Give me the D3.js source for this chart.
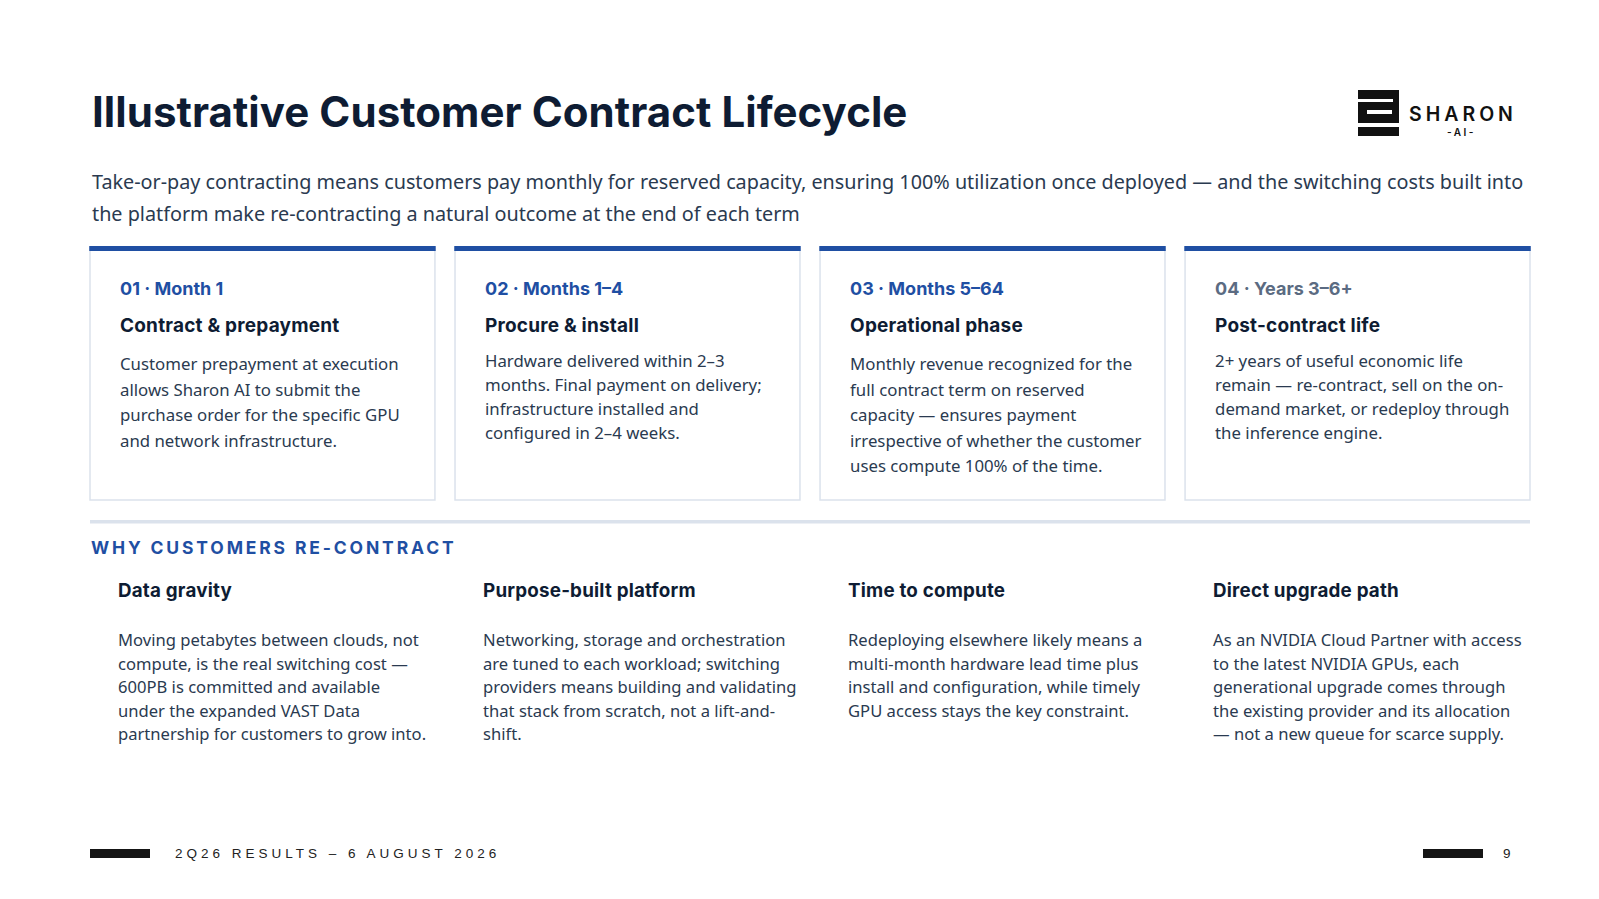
<!DOCTYPE html>
<html>
<head>
<meta charset="utf-8">
<script src="https://cdn.jsdelivr.net/npm/d3@7/dist/d3.min.js"></script>
<style>
  html, body { margin: 0; padding: 0; background: #fff; }
  svg { display: block; }
</style>
</head>
<body>
<svg id="slide" width="1599" height="899"></svg>
<script>
var pageTitle = 'Illustrative Customer Contract Lifecycle';
var subtitleLines = [
  'Take-or-pay contracting means customers pay monthly for reserved capacity, ensuring 100% utilization once deployed \u2014 and the switching costs built into',
  'the platform make re-contracting a natural outcome at the end of each term'
];

var phaseLabels = ['01 \u00b7 Month 1', '02 \u00b7 Months 1\u20134', '03 \u00b7 Months 5\u201364', '04 \u00b7 Years 3\u20136+'];
var phaseTitles = ['Contract & prepayment', 'Procure & install', 'Operational phase', 'Post-contract life'];
var phaseBodies = [
  ['Customer prepayment at execution', 'allows Sharon AI to submit the', 'purchase order for the specific GPU', 'and network infrastructure.'],
  ['Hardware delivered within 2\u20133', 'months. Final payment on delivery;', 'infrastructure installed and', 'configured in 2\u20134 weeks.'],
  ['Monthly revenue recognized for the', 'full contract term on reserved', 'capacity \u2014 ensures payment', 'irrespective of whether the customer', 'uses compute 100% of the time.'],
  ['2+ years of useful economic life', 'remain \u2014 re-contract, sell on the on-', 'demand market, or redeploy through', 'the inference engine.']
];

var sectionLabel = 'WHY CUSTOMERS RE-CONTRACT';
var reasonTitles = ['Data gravity', 'Purpose-built platform', 'Time to compute', 'Direct upgrade path'];
var reasonBodies = [
  ['Moving petabytes between clouds, not', 'compute, is the real switching cost \u2014', '600PB is committed and available', 'under the expanded VAST Data', 'partnership for customers to grow into.'],
  ['Networking, storage and orchestration', 'are tuned to each workload; switching', 'providers means building and validating', 'that stack from scratch, not a lift-and-', 'shift.'],
  ['Redeploying elsewhere likely means a', 'multi-month hardware lead time plus', 'install and configuration, while timely', 'GPU access stays the key constraint.'],
  ['As an NVIDIA Cloud Partner with access', 'to the latest NVIDIA GPUs, each', 'generational upgrade comes through', 'the existing provider and its allocation', '\u2014 not a new queue for scarce supply.']
];

var footerText = '2Q26 RESULTS \u2013 6 AUGUST 2026';
var pageNumber = '9';

(function() {
  'use strict';
  var HEAD = 'Inter, "Liberation Sans", sans-serif';
  var BODY = '"Noto Sans", Lato, sans-serif';
  var navy = '#0e1c33';
  var textCol = '#2a3a50';
  var blue = '#1f4fa3';
  var slate = '#5b6b82';
  var lineCol = '#dbe2ec';

  var svg = d3.select('#slide');

  // four equal columns shared by the cards and the reasons row
  var col = d3.scaleBand()
    .domain(d3.range(4))
    .range([90, 1530])
    .paddingInner(0.055);

  // title
  svg.append('text')
    .attr('x', 92).attr('y', 127)
    .style('font-family', HEAD).style('font-weight', 700)
    .style('font-size', '42px').style('letter-spacing', '0.05px')
    .attr('fill', navy)
    .text(pageTitle);

  // subtitle
  svg.append('g').selectAll('text').data(subtitleLines).enter().append('text')
    .attr('x', 92)
    .attr('y', function(d, i) { return 189 + i * 31.5; })
    .style('font-family', BODY).style('font-size', '19.8px')
    .attr('fill', textCol)
    .text(function(d) { return d; });

  // logo mark
  var logo = svg.append('g').attr('transform', 'translate(1358,90)');
  logo.append('rect').attr('x', 0).attr('y', 0).attr('width', 41).attr('height', 9).attr('fill', '#111');
  logo.append('rect').attr('x', 35).attr('y', 8).attr('width', 6).attr('height', 6).attr('fill', '#111');
  logo.append('rect').attr('x', 0).attr('y', 12).attr('width', 41).attr('height', 21).attr('fill', '#111');
  logo.append('rect').attr('x', 9).attr('y', 20).attr('width', 25).attr('height', 4).attr('fill', '#fff');
  logo.append('rect').attr('x', 0).attr('y', 37).attr('width', 41).attr('height', 9).attr('fill', '#111');
  svg.append('text')
    .attr('x', 1409).attr('y', 121)
    .style('font-family', HEAD).style('font-weight', 600)
    .style('font-size', '19.5px').style('letter-spacing', '4px')
    .attr('fill', '#111')
    .text('SHARON');
  svg.append('text')
    .attr('x', 1447).attr('y', 136)
    .style('font-family', HEAD).style('font-weight', 600)
    .style('font-size', '10px').style('letter-spacing', '2.5px')
    .attr('fill', '#111')
    .text('-AI-');

  // phase cards
  var bodyLead = [25.6, 24, 25.6, 24];
  var bodyTop = [370, 367, 370, 367];
  var cards = svg.append('g').selectAll('g').data(phaseTitles).enter().append('g')
    .attr('transform', function(d, i) { return 'translate(' + col(i) + ',0)'; });

  cards.append('rect')
    .attr('x', 0).attr('y', 248)
    .attr('width', col.bandwidth()).attr('height', 252)
    .attr('fill', '#fff').attr('stroke', lineCol).attr('stroke-width', 1.5);
  cards.append('rect')
    .attr('x', -0.75).attr('y', 246)
    .attr('width', col.bandwidth() + 1.5).attr('height', 5)
    .attr('fill', blue);

  cards.append('text')
    .attr('x', 30).attr('y', 295)
    .style('font-family', HEAD).style('font-weight', 700).style('font-size', '18px')
    .attr('fill', function(d, i) { return i === 3 ? slate : blue; })
    .text(function(d, i) { return phaseLabels[i]; });

  cards.append('text')
    .attr('x', 30).attr('y', 332)
    .style('font-family', HEAD).style('font-weight', 700).style('font-size', '19px')
    .style('letter-spacing', '0.2px')
    .attr('fill', navy)
    .text(function(d) { return d; });

  cards.each(function(d, i) {
    d3.select(this).append('g').selectAll('text').data(phaseBodies[i]).enter().append('text')
      .attr('x', 30)
      .attr('y', function(t, j) { return bodyTop[i] + j * bodyLead[i]; })
      .style('font-family', BODY).style('font-size', '16.8px')
      .attr('fill', textCol)
      .text(function(t) { return t; });
  });

  // divider + section label
  svg.append('rect')
    .attr('x', col(0)).attr('y', 520)
    .attr('width', col(3) + col.bandwidth() - col(0)).attr('height', 3.5)
    .attr('fill', lineCol);

  svg.append('text')
    .attr('x', 91).attr('y', 554)
    .style('font-family', HEAD).style('font-weight', 700)
    .style('font-size', '17.5px').style('letter-spacing', '2.85px')
    .attr('fill', blue)
    .text(sectionLabel);

  // reasons row
  var reasons = svg.append('g').selectAll('g').data(reasonTitles).enter().append('g')
    .attr('transform', function(d, i) { return 'translate(' + (col(i) + 28) + ',0)'; });

  reasons.append('text')
    .attr('x', 0).attr('y', 597)
    .style('font-family', HEAD).style('font-weight', 700).style('font-size', '18.8px')
    .style('letter-spacing', '0.2px')
    .attr('fill', navy)
    .text(function(d) { return d; });

  reasons.each(function(d, i) {
    d3.select(this).append('g').selectAll('text').data(reasonBodies[i]).enter().append('text')
      .attr('x', 0)
      .attr('y', function(t, j) { return 646 + j * 23.6; })
      .style('font-family', BODY).style('font-size', '16.6px')
      .attr('fill', textCol)
      .text(function(t) { return t; });
  });

  // footer
  svg.append('rect').attr('x', 90).attr('y', 849).attr('width', 60).attr('height', 9).attr('fill', '#151515');
  svg.append('text')
    .attr('x', 175).attr('y', 858)
    .style('font-family', '"Liberation Sans", Arial, sans-serif')
    .style('font-size', '13.5px').style('letter-spacing', '4px')
    .attr('fill', '#222')
    .text(footerText);
  svg.append('rect').attr('x', 1423).attr('y', 849).attr('width', 60).attr('height', 9).attr('fill', '#151515');
  svg.append('text')
    .attr('x', 1503).attr('y', 858)
    .style('font-family', '"Liberation Sans", Arial, sans-serif')
    .style('font-size', '13.5px')
    .attr('fill', '#222')
    .text(pageNumber);
})();
</script>
</body>
</html>
